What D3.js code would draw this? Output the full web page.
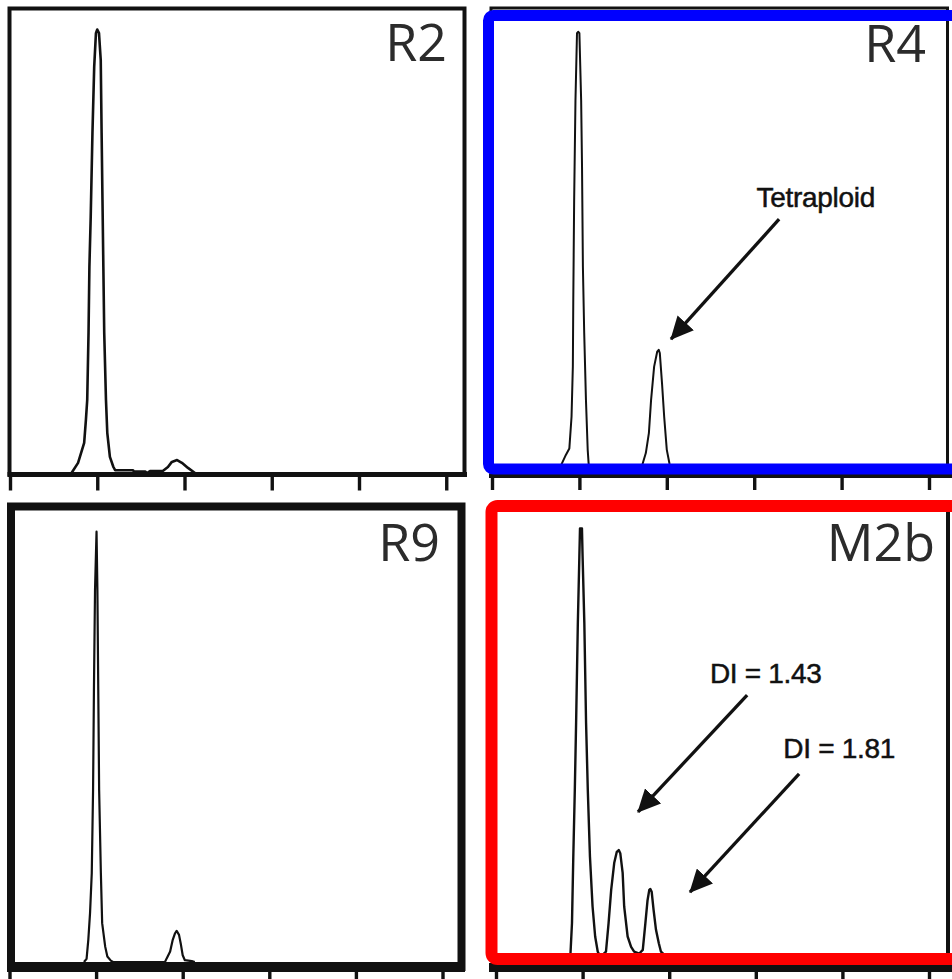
<!DOCTYPE html>
<html>
<head>
<meta charset="utf-8">
<script src="https://cdn.jsdelivr.net/npm/d3@7"></script>
<style>
  html, body { margin: 0; padding: 0; background: #fff; }
  svg { display: block; }
</style>
</head>
<body>
<svg id="chart" width="952" height="979"></svg>
<script>
// ---------------- DATA ----------------
const panelNames = ["R2", "R4", "R9", "M2b"];
const tickValues = [0, 200, 400, 600, 800, 1000];

// DNA content histograms: [channel, relative count (% of panel height)]
const r2Series = [
  [141, 0], [156, 2.2], [170, 6.5], [174, 11.5], [177, 15.8], [180, 30.3], [182, 44.6],
  [185, 55.4], [189, 73.6], [193, 87.9], [197, 95.2], [200, 96.0], [204, 95.2],
  [208, 89.4], [210, 73.6], [212, 59.1], [214, 44.6], [216, 30.3], [220, 15.8],
  [223, 8.7], [229, 3.5], [237, 1.3], [241, 0.6], [282, 0.6], [284, 0.3], [310, 0.3],
  [314, 0], [321, 0.4], [351, 0.5], [362, 1.3], [371, 2.4], [383, 2.8], [394, 2.2],
  [408, 1.1], [424, 0]
];
const r4Series = [
  [151, 0], [160, 2.3], [169, 4.1], [177, 5.5], [182, 12.3], [185, 23.1], [186, 37.4],
  [188, 58.9], [191, 80.4], [194.5, 94.8], [197.5, 95.1], [200, 94.8], [204, 80.4],
  [206, 66.1], [208, 44.6], [211, 30.3], [215, 15.9], [219, 5.2], [221, 2.4], [224, 0],
  [339, 0], [345, 2.3], [352, 4.5], [359, 8.8], [364, 15.9], [371, 23.1], [378, 26.3],
  [381.5, 26.7], [384, 26.0], [389, 19.6], [394, 12.3], [400, 5.2], [406, 2.3], [412, 0]
];
const r9Series = [
  [172, 0], [178, 0.7], [182, 4.9], [186, 10.8], [190, 19.7], [193, 38.1], [195, 60.2],
  [197.5, 82.3], [201, 95.2], [203, 82.3], [205, 60.2], [207, 38.1], [211, 19.7],
  [214, 8.6], [221, 3.4], [226, 1.2], [234, 0.3], [239, 0], [359, 0], [363, 0.8],
  [371, 2.3], [377, 4.9], [382, 6.3], [386, 6.9], [391.5, 6.0], [396, 3.8], [400, 1.5],
  [405, 0.4], [421, 0.2], [428, 0]
];
const m2bSeries = [
  [166, 0], [172, 1.0], [175.5, 7.8], [178.5, 22.6], [182, 37.5], [185, 52.5], [189, 74.8],
  [192.5, 89.6], [194, 95.9], [198.5, 95.9], [200, 89.6], [204, 74.8], [208, 52.5],
  [212, 37.5], [217, 22.6], [223, 11.5], [229, 4.8], [235, 1.4], [239, 0.7], [246, 0.7],
  [254, 1.4], [260, 7.8], [266, 15.2], [273, 21.2], [279, 23.7], [283.5, 24.1],
  [287, 23.4], [292.5, 19.0], [296, 11.5], [304, 4.8], [312, 2.5], [319, 1.4], [331, 1.0],
  [339, 1.8], [345, 7.8], [350, 12.9], [354, 15.2], [356.5, 15.4], [359.5, 14.8],
  [364, 10.7], [369.5, 6.3], [376, 3.3], [381, 1.4], [389, 0.7], [397, 0]
];

// Annotations (text, label position, arrow start, arrow tip) in data units
const r4Notes = [
  { text: "Tetraploid", label: [741, 57.4], from: [657, 54.8], to: [409.6, 29.0] }
];
const m2bNotes = [
  { text: "DI = 1.43", label: [623, 61.4], from: [580, 58.7], to: [328, 32.6] },
  { text: "DI = 1.81", label: [792.6, 44.6], from: [700, 41.1], to: [448, 14.7] }
];

// ---------------- LAYOUT ----------------
const layout = {
  R2:  { series: r2Series, notes: [], xr: [10, 446.25], yr: [473, 11], lw: 2.6,
         frame: { x: 9.5, y: 8.5, w: 455, h: 466, sw: 4 },
         axis: { y: 474.5, sw: 5, x1: 7.5, x2: 467, tick: 16 },
         label: { x: 447, y: 60.5 }, accent: null },
  R4:  { series: r4Series, notes: r4Notes, xr: [492, 929], yr: [474, 9], lw: 2.0,
         frame: { x: 491, y: 8, w: 456.5, h: 468, sw: 3 },
         axis: { y: 476, sw: 4, x1: 489, x2: 952, tick: 14 },
         label: { x: 926, y: 61.5 },
         accent: { color: "#0000ff", x: 488.5, y: 15.5, w: 480, h: 453.5, sw: 11, r: 5 } },
  R9:  { series: r9Series, notes: [], xr: [9.5, 442.5], yr: [962, 510], lw: 2.2,
         frame: { x: 11, y: 506.5, w: 450.5, h: 460.5, sw: 8 },
         axis: { y: 967, sw: 10, x1: 7, x2: 465, tick: 14 },
         label: { x: 440, y: 560.5 }, accent: null },
  M2b: { series: m2bSeries, notes: m2bNotes, xr: [496, 929], yr: [958, 510], lw: 2.4,
         frame: { x: 494, y: 506, w: 454, h: 462.5, sw: 4 },
         axis: { y: 967.5, sw: 9, x1: 489, x2: 952, tick: 13 },
         label: { x: 935, y: 560.5 },
         accent: { color: "#ff0000", x: 491.5, y: 506, w: 480, h: 453, sw: 12, r: 6 } }
};

// ---------------- DRAW ----------------
const svg = d3.select("#chart");
const defs = svg.append("defs");
defs.append("marker")
  .attr("id", "arrowhead")
  .attr("markerUnits", "userSpaceOnUse")
  .attr("viewBox", "0 0 23 22")
  .attr("refX", 22).attr("refY", 11)
  .attr("markerWidth", 23).attr("markerHeight", 22)
  .attr("orient", "auto")
  .append("path")
  .attr("d", "M0,0 L23,11 L0,22 Z")
  .attr("fill", "#111");

panelNames.forEach(name => {
  const p = layout[name];
  const g = svg.append("g").attr("class", "panel-" + name);
  const x = d3.scaleLinear().domain([0, 1000]).range(p.xr);
  const y = d3.scaleLinear().domain([0, 100]).range(p.yr);

  // black frame
  g.append("rect")
    .attr("x", p.frame.x).attr("y", p.frame.y)
    .attr("width", p.frame.w).attr("height", p.frame.h)
    .attr("fill", "none").attr("stroke", "#111").attr("stroke-width", p.frame.sw);

  // histogram line
  const line = d3.line().x(d => x(d[0])).y(d => y(d[1])).curve(d3.curveLinear);
  g.append("path")
    .datum(p.series)
    .attr("d", line)
    .attr("fill", "none")
    .attr("stroke", "#111")
    .attr("stroke-width", p.lw)
    .attr("stroke-linejoin", "round");

  // x axis ticks (no labels)
  const ax = g.append("g")
    .attr("transform", `translate(0,${p.axis.y})`)
    .call(d3.axisBottom(x).tickValues(tickValues).tickSize(p.axis.tick).tickSizeOuter(0).tickFormat(""));
  ax.select(".domain").remove();
  ax.selectAll(".tick line").attr("stroke", "#111").attr("stroke-width", 3.4);

  // axis base line
  g.append("line")
    .attr("x1", p.axis.x1).attr("x2", p.axis.x2)
    .attr("y1", p.axis.y).attr("y2", p.axis.y)
    .attr("stroke", "#111").attr("stroke-width", p.axis.sw);

  // coloured highlight frame
  if (p.accent) {
    g.append("rect")
      .attr("x", p.accent.x).attr("y", p.accent.y)
      .attr("width", p.accent.w).attr("height", p.accent.h)
      .attr("rx", p.accent.r).attr("ry", p.accent.r)
      .attr("fill", "none").attr("stroke", p.accent.color)
      .attr("stroke-width", p.accent.sw);
  }

  // panel label
  g.append("text")
    .attr("x", p.label.x).attr("y", p.label.y)
    .attr("text-anchor", "end")
    .attr("font-family", "'Open Sans', 'Noto Sans', sans-serif")
    .attr("font-size", 52)
    .attr("fill", "#2b2b2b")
    .text(name);

  // annotations
  p.notes.forEach(n => {
    g.append("text")
      .attr("x", x(n.label[0])).attr("y", y(n.label[1]))
      .attr("text-anchor", "middle")
      .attr("font-family", "'Liberation Sans', Arial, sans-serif")
      .attr("font-size", 28)
      .attr("letter-spacing", -0.3)
      .attr("fill", "#111")
      .attr("stroke", "#111").attr("stroke-width", 0.5)
      .text(n.text);
    g.append("line")
      .attr("x1", x(n.from[0])).attr("y1", y(n.from[1]))
      .attr("x2", x(n.to[0])).attr("y2", y(n.to[1]))
      .attr("stroke", "#111").attr("stroke-width", 3.3)
      .attr("marker-end", "url(#arrowhead)");
  });
});
</script>
</body>
</html>
